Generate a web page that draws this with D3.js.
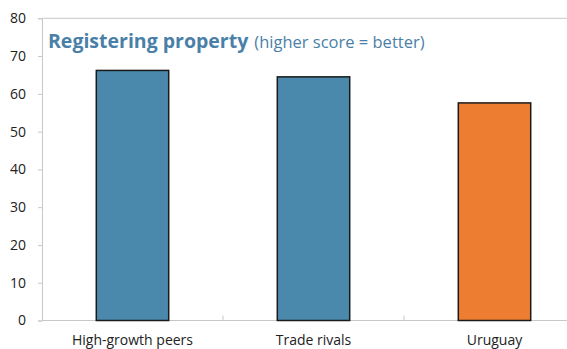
<!DOCTYPE html>
<html>
<head>
<meta charset="utf-8">
<script src="https://cdn.jsdelivr.net/npm/d3@7"></script>
<style>
  html, body { margin: 0; padding: 0; background: #fff; }
  svg { display: block; font-family: "Open Sans", "Noto Sans", sans-serif; }
</style>
</head>
<body>
<svg id="chart" width="567" height="349"></svg>
<script>
// Registering property scores by group
const categories = ["High-growth peers", "Trade rivals", "Uruguay"];
const scores = [66.2, 64.5, 57.6];
const barColors = ["#4a89ac", "#4a89ac", "#ed7d31"];
const yTicks = [0, 10, 20, 30, 40, 50, 60, 70, 80];

const svg = d3.select("#chart");
const W = 567;
const plotLeft = 42, plotTop = 18.3, plotBottom = 320.5, plotRight = 585;

const x = d3.scaleBand()
  .domain(categories)
  .range([plotLeft, plotRight])
  .paddingInner(0.6)
  .paddingOuter(0.3);

const y = d3.scaleLinear().domain([0, 80]).range([plotBottom, plotTop]);

const axisColor = "#c8c8c8";

// Plot frame: top edge
svg.append("line")
  .attr("x1", plotLeft).attr("x2", W)
  .attr("y1", plotTop).attr("y2", plotTop)
  .attr("stroke", axisColor).attr("stroke-width", 1);

// Y axis
const yAxis = svg.append("g")
  .attr("transform", `translate(${plotLeft},0)`)
  .call(d3.axisLeft(y).tickValues(yTicks).tickSize(4).tickPadding(12).tickFormat(d3.format("d")));
yAxis.select(".domain").attr("stroke", axisColor);
yAxis.selectAll(".tick line").attr("stroke", axisColor);
yAxis.selectAll(".tick text")
  .attr("font-size", 14)
  .attr("fill", "#222")
  .attr("font-family", "'Open Sans', 'Noto Sans', sans-serif");

// X axis with ticks between categories pointing up
svg.append("line")
  .attr("x1", plotLeft).attr("x2", W)
  .attr("y1", plotBottom).attr("y2", plotBottom)
  .attr("stroke", axisColor).attr("stroke-width", 1.2);

const step = x.step();
const boundaries = categories.slice(1).map(c => x(c) - (step - x.bandwidth()) / 2);
svg.selectAll(".sep")
  .data(boundaries)
  .join("line")
  .attr("class", "sep")
  .attr("x1", d => d).attr("x2", d => d)
  .attr("y1", plotBottom).attr("y2", plotBottom - 5)
  .attr("stroke", axisColor);

// Bars
svg.selectAll(".bar")
  .data(categories)
  .join("rect")
  .attr("class", "bar")
  .attr("x", d => x(d))
  .attr("width", x.bandwidth())
  .attr("y", (d, i) => y(scores[i]))
  .attr("height", (d, i) => plotBottom - y(scores[i]))
  .attr("fill", (d, i) => barColors[i])
  .attr("stroke", "#1a1a1a")
  .attr("stroke-width", 1.5);

// Category labels
svg.selectAll(".cat")
  .data(categories)
  .join("text")
  .attr("class", "cat")
  .attr("x", d => x(d) + x.bandwidth() / 2)
  .attr("y", 345)
  .attr("text-anchor", "middle")
  .attr("font-size", 14)
  .attr("fill", "#222")
  .text(d => d);

// Title
const title = svg.append("text")
  .attr("x", 48)
  .attr("y", 48)
  .attr("fill", "#4a7fa8");
title.append("tspan")
  .attr("font-size", 19.5)
  .attr("font-weight", "bold")
  .text("Registering property");
title.append("tspan")
  .attr("font-size", 16.5)
  .attr("dx", 6)
  .text("(higher score = better)");
</script>
</body>
</html>
